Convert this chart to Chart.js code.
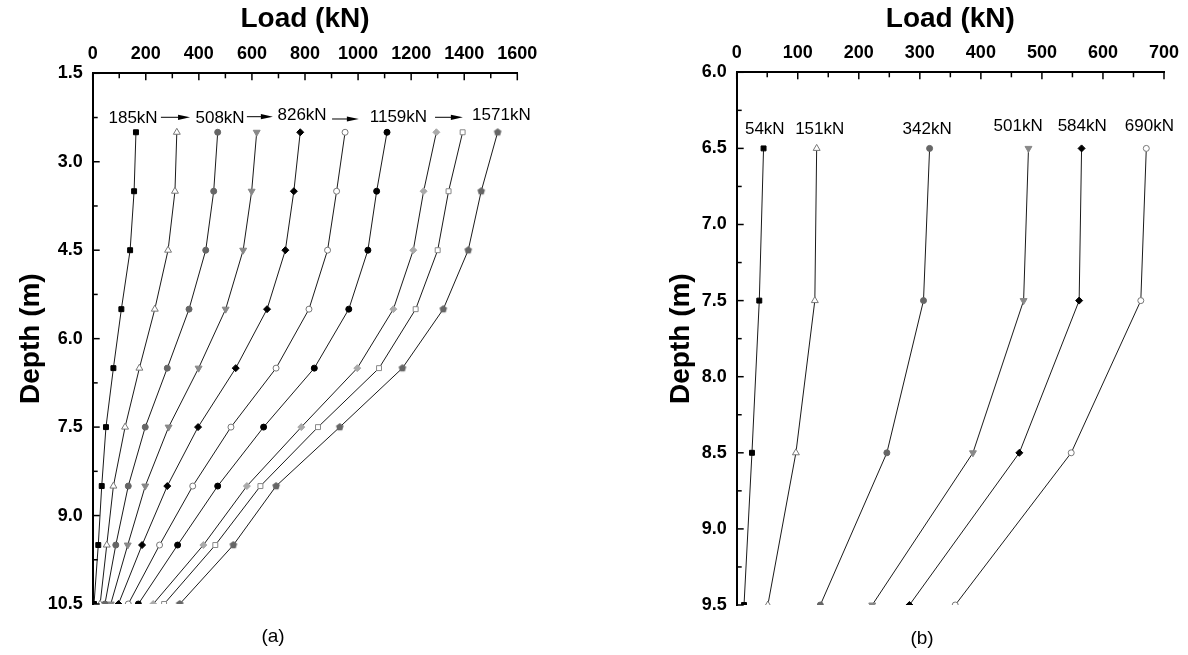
<!DOCTYPE html>
<html>
<head>
<meta charset="utf-8">
<script src="https://cdn.jsdelivr.net/npm/chart.js@4.4.1/dist/chart.umd.min.js"></script>
<style>
  html, body { margin: 0; padding: 0; background: #fff; }
  body { width: 1188px; height: 655px; position: relative; overflow: hidden; font-family: "Liberation Sans", Arial, sans-serif; }
  .panel { position: absolute; top: 0; width: 594px; height: 655px; }
  .cap { position: absolute; font-size: 19px; line-height: 22px; transform: translateX(-50%); color: #000; }
</style>
</head>
<body>
<div class="panel" style="left:0"><canvas id="chartA"></canvas></div>
<div class="panel" style="left:594px"><canvas id="chartB"></canvas></div>
<div class="cap" style="left:273px; top:625px">(a)</div>
<div class="cap" style="left:922px; top:627px">(b)</div>
<script>
// ---- panel (a) data: load (kN) along the pile at each depth (m)
const depthA = [2.5, 3.5, 4.5, 5.5, 6.5, 7.5, 8.5, 9.5, 10.5];
const loadA1 = [163, 156, 141, 108, 78, 50, 34, 21, 5];
const loadA2 = [317, 310, 284, 234, 176, 122, 78, 53, 28];
const loadA3 = [471, 456, 426, 363, 281, 198, 134, 87, 46];
const loadA4 = [618, 599, 567, 501, 399, 286, 198, 132, 68];
const loadA5 = [782, 758, 726, 657, 539, 397, 281, 186, 97];
const loadA6 = [951, 919, 885, 815, 691, 521, 377, 252, 134];
const loadA7 = [1109, 1070, 1037, 965, 835, 644, 471, 320, 172];
const loadA8 = [1295, 1247, 1208, 1133, 997, 786, 581, 417, 228];
const loadA9 = [1394, 1341, 1300, 1217, 1079, 849, 632, 462, 269];
const loadA10 = [1526, 1464, 1415, 1321, 1167, 931, 691, 530, 328];
const xTicksA = [0, 200, 400, 600, 800, 1000, 1200, 1400, 1600];
const yTicksA = [1.5, 3.0, 4.5, 6.0, 7.5, 9.0, 10.5];
const headLoadsA = ['185kN', '508kN', '826kN', '1159kN', '1571kN'];

// ---- panel (b) data
const depthB = [6.5, 7.5, 8.5, 9.5];
const loadB1 = [44, 37, 25, 12];
const loadB2 = [131, 128, 97, 51];
const loadB3 = [316, 306, 246, 137];
const loadB4 = [478, 470, 387, 222];
const loadB5 = [565, 561, 463, 283];
const loadB6 = [671, 662, 548, 358];
const xTicksB = [0, 100, 200, 300, 400, 500, 600, 700];
const yTicksB = [6.0, 6.5, 7.0, 7.5, 8.0, 8.5, 9.0, 9.5];
const headLoadsB = ['54kN', '151kN', '342kN', '501kN', '584kN', '690kN'];

// where the head-load labels sit, in data units [load, depth]
const labelPosA = [[152, 2.246], [480, 2.246], [789, 2.19], [1152, 2.224], [1540, 2.19]];
const arrowPosA = [[257, 367, 2.246], [581, 679, 2.236], [902, 1003, 2.275], [1290, 1395, 2.246]];
const labelPosB = [[46, 6.368], [136, 6.368], [312, 6.368], [461, 6.346], [566, 6.346], [676, 6.346]];

const FONT = '"Liberation Sans", Arial, Helvetica, sans-serif';

function pentagon(color, r) {
  const c = document.createElement('canvas');
  const s = Math.ceil(r * 2) + 2;
  c.width = c.height = s;
  const g = c.getContext('2d');
  g.fillStyle = color;
  g.beginPath();
  for (let i = 0; i < 5; i++) {
    const a = -Math.PI / 2 + i * 2 * Math.PI / 5;
    g.lineTo(s / 2 + r * Math.cos(a), s / 2 + r * Math.sin(a));
  }
  g.closePath();
  g.fill();
  return c;
}

// marker looks, in series order
const markers = [
  { style: 'rect', fill: '#000', edge: '#000', r: 3.5 },
  { style: 'triangle', fill: '#fff', edge: '#777', r: 4 },
  { style: 'circle', fill: '#666', edge: '#666', r: 3 },
  { style: 'triangle', fill: '#888', edge: '#888', r: 4, rot: 180 },
  { style: 'rectRot', fill: '#000', edge: '#000', r: 3.5 },
  { style: 'circle', fill: '#fff', edge: '#777', r: 3 },
  { style: 'circle', fill: '#000', edge: '#000', r: 3 },
  { style: 'rectRot', fill: '#aaa', edge: '#aaa', r: 3.5 },
  { style: 'rect', fill: '#fff', edge: '#888', r: 3.5 },
  { style: pentagon('#666', 4), fill: '#666', edge: '#666', r: 4 }
];

function toDatasets(depths, loads) {
  return loads.map((vals, i) => {
    const m = markers[i];
    return {
      data: vals.map((v, k) => ({ x: v, y: depths[k] })),
      showLine: true,
      borderColor: '#1a1a1a',
      borderWidth: 1,
      pointStyle: m.style,
      pointRadius: m.r,
      pointRotation: m.rot || 0,
      pointBackgroundColor: m.fill,
      pointBorderColor: m.edge,
      pointBorderWidth: 1
    };
  });
}

function midpoints(list) {
  const out = [];
  for (let i = 0; i < list.length; i++) {
    out.push(list[i]);
    if (i < list.length - 1) out.push((list[i] + list[i + 1]) / 2);
  }
  return out;
}

function decoPlugin(cfg) {
  return {
    id: 'deco',
    afterDraw(chart) {
      const c = chart.ctx;
      const xs = chart.scales.x, ys = chart.scales.y;
      const area = chart.chartArea;
      c.save();
      c.strokeStyle = '#000';
      c.lineWidth = 1.5;
      // inward ticks
      midpoints(cfg.xTicks).forEach((v, i) => {
        const px = xs.getPixelForValue(v);
        const len = i % 2 === 0 ? 7 : 5;
        c.beginPath(); c.moveTo(px, area.top); c.lineTo(px, area.top + len); c.stroke();
      });
      midpoints(cfg.yTicks).forEach((v, i) => {
        const py = ys.getPixelForValue(v);
        const len = i % 2 === 0 ? 7 : 5;
        c.beginPath(); c.moveTo(area.left, py); c.lineTo(area.left + len, py); c.stroke();
      });
      // head-load labels
      c.fillStyle = '#000';
      c.font = '17px ' + FONT;
      c.textAlign = 'center';
      c.textBaseline = 'alphabetic';
      cfg.labels.forEach((t, i) => {
        const [lx, ly] = cfg.labelPos[i];
        c.fillText(t, xs.getPixelForValue(lx), ys.getPixelForValue(ly) + 6);
      });
      // arrows
      c.lineWidth = 1;
      (cfg.arrows || []).forEach(([a, b, d]) => {
        const x1 = xs.getPixelForValue(a), x2 = xs.getPixelForValue(b), y = ys.getPixelForValue(d);
        c.beginPath(); c.moveTo(x1, y); c.lineTo(x2 - 10, y); c.stroke();
        c.beginPath(); c.moveTo(x2, y); c.lineTo(x2 - 12, y - 2.6); c.lineTo(x2 - 12, y + 2.6); c.closePath(); c.fill();
      });
      c.restore();
    }
  };
}

function makeChart(id, cfg) {
  const ctx = document.getElementById(id).getContext('2d');
  const tickFont = { family: FONT, size: 18, weight: 'bold' };
  const titleFont = { family: FONT, size: 28, weight: 'bold' };
  return new Chart(ctx, {
    type: 'scatter',
    data: { datasets: toDatasets(cfg.depths, cfg.loads) },
    options: {
      responsive: true,
      maintainAspectRatio: false,
      animation: false,
      layout: { padding: cfg.padding },
      plugins: { legend: { display: false }, tooltip: { enabled: false } },
      scales: {
        x: {
          type: 'linear',
          position: 'top',
          min: cfg.xTicks[0],
          max: cfg.xTicks[cfg.xTicks.length - 1],
          afterFit: s => { s.height = cfg.xAxisHeight; },
          afterBuildTicks: s => { s.ticks = cfg.xTicks.map(v => ({ value: v })); },
          ticks: { autoSkip: false, maxRotation: 0, padding: 8, color: '#000', font: tickFont,
                   callback: v => String(v) },
          grid: { display: false, drawOnChartArea: false, drawTicks: false },
          border: { display: true, color: '#000', width: 2 },
          title: { display: true, text: 'Load (kN)', color: '#000', font: titleFont, padding: { top: 2, bottom: 0 } }
        },
        y: {
          type: 'linear',
          position: 'left',
          reverse: true,
          min: cfg.yTicks[0],
          max: cfg.yTicks[cfg.yTicks.length - 1],
          afterFit: s => { s.width = cfg.yAxisWidth; },
          afterBuildTicks: s => { s.ticks = cfg.yTicks.map(v => ({ value: v })); },
          ticks: { autoSkip: false, padding: 10, color: '#000', font: tickFont,
                   callback: v => Number(v).toFixed(1) },
          grid: { display: false, drawOnChartArea: false, drawTicks: false },
          border: { display: true, color: '#000', width: 2 },
          title: { display: true, text: 'Depth (m)', color: '#000', font: titleFont, padding: { top: cfg.yTitlePad, bottom: 0 } }
        }
      }
    },
    plugins: [decoPlugin(cfg)]
  });
}

makeChart('chartA', {
  depths: depthA,
  loads: [loadA1, loadA2, loadA3, loadA4, loadA5, loadA6, loadA7, loadA8, loadA9, loadA10],
  xTicks: xTicksA, yTicks: yTicksA,
  labels: headLoadsA, labelPos: labelPosA, arrows: arrowPosA,
  padding: { left: 0, top: 0, right: 76.7, bottom: 51 },
  xAxisHeight: 73.3, yAxisWidth: 92.7, yTitlePad: 14
});

makeChart('chartB', {
  depths: depthB,
  loads: [loadB1, loadB2, loadB3, loadB4, loadB5, loadB6],
  xTicks: xTicksB, yTicks: yTicksB,
  labels: headLoadsB, labelPos: labelPosB,
  padding: { left: 0, top: 0, right: 24, bottom: 50 },
  xAxisHeight: 72.3, yAxisWidth: 142.7, yTitlePad: 70
});
</script>
</body>
</html>
